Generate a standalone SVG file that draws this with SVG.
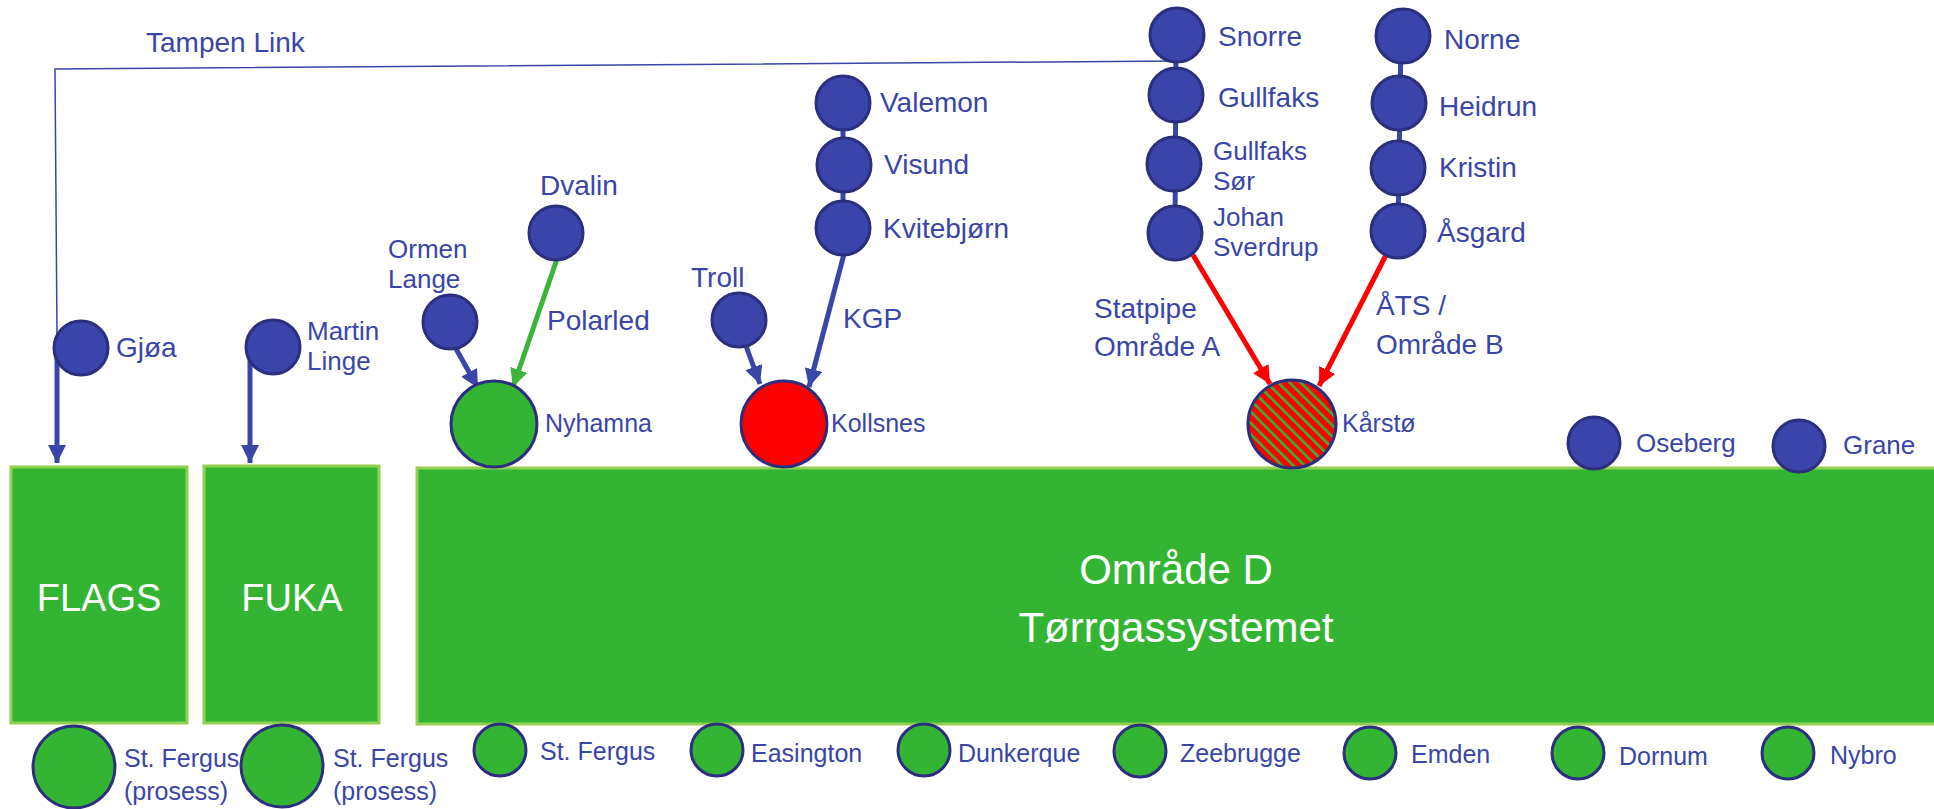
<svg xmlns="http://www.w3.org/2000/svg" width="1934" height="809" viewBox="0 0 1934 809">
<style>
text{font-family:"Liberation Sans",Arial,sans-serif;fill:#3a45a8}
.lbl{font-size:28px}
.two{font-size:26px}
.sm{font-size:25px}
.big{font-size:42px;fill:#ffffff}
.box{fill:#33b533;stroke:#92d050;stroke-width:3}
.src{fill:#3b44ab;stroke:#2b2f7e;stroke-width:3}
.term{fill:#33b533;stroke:#2b2f7e;stroke-width:3}
.chain{stroke:#3a45a8;stroke-width:5;fill:none}
.arr{stroke:#3a45a8;stroke-width:5;fill:none;marker-end:url(#ab)}
.arrR{stroke:#ff0000;stroke-width:5;fill:none;marker-end:url(#ar)}
.arrG{stroke:#3cb43c;stroke-width:5;fill:none;marker-end:url(#ag)}
</style>
<defs>
<marker id="ab" markerUnits="userSpaceOnUse" markerWidth="18" markerHeight="18" viewBox="0 0 16 16" refX="16" refY="8" orient="auto"><path d="M0,0 L16,8 L0,16 Z" fill="#3a45a8"/></marker>
<marker id="ar" markerUnits="userSpaceOnUse" markerWidth="18" markerHeight="18" viewBox="0 0 16 16" refX="16" refY="8" orient="auto"><path d="M0,0 L16,8 L0,16 Z" fill="#ff0000"/></marker>
<marker id="ag" markerUnits="userSpaceOnUse" markerWidth="18" markerHeight="18" viewBox="0 0 16 16" refX="16" refY="8" orient="auto"><path d="M0,0 L16,8 L0,16 Z" fill="#3cb43c"/></marker>
<pattern id="hatch" patternUnits="userSpaceOnUse" width="8" height="8" patternTransform="rotate(-45)">
<rect width="8" height="8" fill="#ff0000"/><rect width="2.6" height="8" fill="#33b533"/>
</pattern>
</defs>

<g id="area-flags"><rect class="box" x="11" y="467" width="176" height="256"/><text class="big" x="99" y="611" text-anchor="middle" style="font-size:38px">FLAGS</text></g>
<g id="area-fuka"><rect class="box" x="204" y="466" width="175" height="257"/><text class="big" x="292" y="611" text-anchor="middle" style="font-size:38px">FUKA</text></g>
<g id="area-d"><rect class="box" x="417" y="468" width="1530" height="256"/><text class="big" text-anchor="middle"><tspan x="1176" y="584">Område D</tspan><tspan x="1176" y="642">Tørrgassystemet</tspan></text></g>

<g id="connectors">
<polyline points="1175,61 55,69 57,334" fill="none" stroke="#3a45a8" stroke-width="1.5"/>
<text class="lbl" x="146" y="52">Tampen Link</text>
<line class="arr" x1="57" y1="352" x2="57" y2="463"/>
<line class="arr" x1="250" y1="356" x2="250" y2="463"/>
<line class="arr" x1="455" y1="347" x2="478" y2="388"/>
<line class="arrG" x1="557" y1="259" x2="513" y2="387"/>
<line class="arr" x1="746" y1="346" x2="760" y2="384"/>
<line class="arr" x1="844" y1="254" x2="809" y2="387"/>
<line class="chain" x1="843" y1="103" x2="843" y2="228"/>
<line class="chain" x1="1176" y1="35" x2="1175" y2="233"/>
<line class="chain" x1="1401" y1="36" x2="1398" y2="231"/>
<line class="arrR" x1="1193" y1="255" x2="1270" y2="384"/>
<line class="arrR" x1="1386" y1="255" x2="1319" y2="386"/>
<text class="lbl" x="547" y="330">Polarled</text>
<text class="lbl" x="843" y="328">KGP</text>
<text class="lbl"><tspan x="1094" y="318">Statpipe</tspan><tspan x="1094" y="356">Område A</tspan></text>
<text class="lbl"><tspan x="1376" y="315">ÅTS /</tspan><tspan x="1376" y="354">Område B</tspan></text>
</g>

<g id="gjoa"><circle class="src" cx="81" cy="348" r="27"/><text class="lbl" x="116" y="357">Gjøa</text></g>
<g id="martin-linge"><circle class="src" cx="273" cy="347" r="27"/><text class="two"><tspan x="307" y="340">Martin</tspan><tspan x="307" y="370">Linge</tspan></text></g>
<g id="ormen-lange"><circle class="src" cx="450" cy="322" r="27"/><text class="two"><tspan x="388" y="258">Ormen</tspan><tspan x="388" y="288">Lange</tspan></text></g>
<g id="dvalin"><circle class="src" cx="556" cy="233" r="27"/><text class="lbl" x="540" y="195">Dvalin</text></g>
<g id="nyhamna"><circle class="term" cx="494" cy="424" r="43"/><text class="sm" x="545" y="432">Nyhamna</text></g>
<g id="troll"><circle class="src" cx="739" cy="320" r="27"/><text class="lbl" x="691" y="287">Troll</text></g>
<g id="valemon"><circle class="src" cx="843" cy="103" r="27"/><text class="lbl" x="880" y="112">Valemon</text></g>
<g id="visund"><circle class="src" cx="844" cy="165" r="27"/><text class="lbl" x="884" y="174">Visund</text></g>
<g id="kvitebjorn"><circle class="src" cx="843" cy="228" r="27"/><text class="lbl" x="883" y="238">Kvitebjørn</text></g>
<g id="kollsnes"><circle cx="784" cy="424" r="43" fill="#ff0000" stroke="#2b2f7e" stroke-width="3"/><text class="sm" x="831" y="432">Kollsnes</text></g>
<g id="snorre"><circle class="src" cx="1177" cy="35" r="27"/><text class="lbl" x="1218" y="46">Snorre</text></g>
<g id="gullfaks"><circle class="src" cx="1176" cy="95" r="27"/><text class="lbl" x="1218" y="107">Gullfaks</text></g>
<g id="gullfaks-sor"><circle class="src" cx="1174" cy="164" r="27"/><text class="two"><tspan x="1213" y="160">Gullfaks</tspan><tspan x="1213" y="190">Sør</tspan></text></g>
<g id="johan-sverdrup"><circle class="src" cx="1175" cy="233" r="27"/><text class="two"><tspan x="1213" y="226">Johan</tspan><tspan x="1213" y="256">Sverdrup</tspan></text></g>
<g id="norne"><circle class="src" cx="1403" cy="36" r="27"/><text class="lbl" x="1444" y="49">Norne</text></g>
<g id="heidrun"><circle class="src" cx="1399" cy="103" r="27"/><text class="lbl" x="1439" y="116">Heidrun</text></g>
<g id="kristin"><circle class="src" cx="1398" cy="168" r="27"/><text class="lbl" x="1439" y="177">Kristin</text></g>
<g id="asgard"><circle class="src" cx="1398" cy="231" r="27"/><text class="lbl" x="1437" y="242">Åsgard</text></g>
<g id="karsto"><circle cx="1292" cy="424" r="44" fill="url(#hatch)" stroke="#2b2f7e" stroke-width="3"/><text class="sm" x="1342" y="432">Kårstø</text></g>
<g id="oseberg"><circle class="src" cx="1594" cy="443" r="26"/><text class="sm" x="1636" y="452" style="font-size:26px">Oseberg</text></g>
<g id="grane"><circle class="src" cx="1799" cy="446" r="26"/><text class="sm" x="1843" y="454" style="font-size:26px">Grane</text></g>

<g id="st-fergus-flags"><circle class="term" cx="74" cy="767" r="41"/><text class="sm"><tspan x="124" y="767">St. Fergus</tspan><tspan x="124" y="800">(prosess)</tspan></text></g>
<g id="st-fergus-fuka"><circle class="term" cx="282" cy="766" r="41"/><text class="sm"><tspan x="333" y="767">St. Fergus</tspan><tspan x="333" y="800">(prosess)</tspan></text></g>
<g id="st-fergus"><circle class="term" cx="500" cy="750" r="26"/><text class="sm" x="540" y="760">St. Fergus</text></g>
<g id="easington"><circle class="term" cx="717" cy="750" r="26"/><text class="sm" x="751" y="762">Easington</text></g>
<g id="dunkerque"><circle class="term" cx="924" cy="750" r="26"/><text class="sm" x="958" y="762">Dunkerque</text></g>
<g id="zeebrugge"><circle class="term" cx="1140" cy="751" r="26"/><text class="sm" x="1180" y="762">Zeebrugge</text></g>
<g id="emden"><circle class="term" cx="1370" cy="753" r="26"/><text class="sm" x="1411" y="763">Emden</text></g>
<g id="dornum"><circle class="term" cx="1578" cy="753" r="26"/><text class="sm" x="1619" y="765">Dornum</text></g>
<g id="nybro"><circle class="term" cx="1788" cy="753" r="26"/><text class="sm" x="1830" y="764">Nybro</text></g>
</svg>
